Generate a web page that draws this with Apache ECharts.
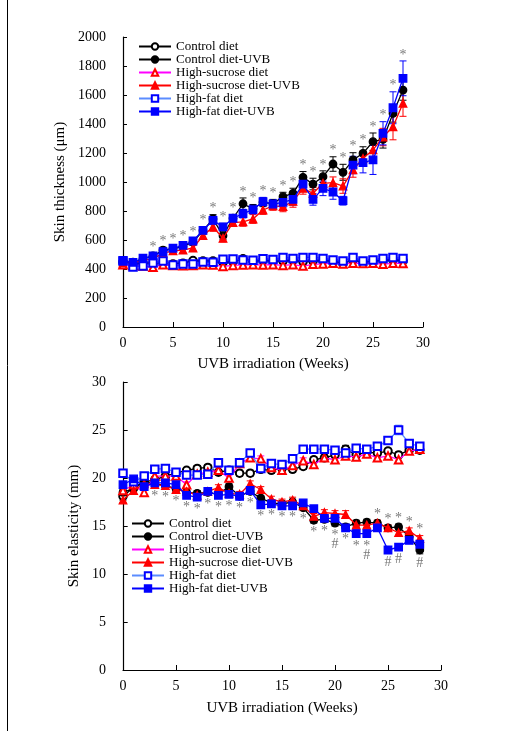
<!DOCTYPE html>
<html>
<head>
<meta charset="utf-8">
<style>
  html, body { margin: 0; padding: 0; background: #fff; }
  #chart { width: 508px; height: 731px; }
</style>
<script src="https://cdn.jsdelivr.net/npm/echarts@6/dist/echarts.min.js"></script>
</head>
<body>
<div id="chart"></div>
<script>
// Weeks of UVB irradiation
const weeks = [0,1,2,3,4,5,6,7,8,9,10,11,12,13,14,15,16,17,18,19,20,21,22,23,24,25,26,27,28];

const seriesNames = ['Control diet', 'Control diet-UVB', 'High-sucrose diet',
                     'High-sucrose diet-UVB', 'High-fat diet', 'High-fat diet-UVB'];

// Skin thickness (µm), means
const thkControl     = [445,435,440,440,445,435,440,458,455,455,445,450,470,455,460,455,455,460,450,455,458,455,440,460,448,455,460,462,458];
const thkControlUVB  = [455,448,470,490,530,540,555,585,665,745,630,750,850,815,860,850,899,922,1032,986,1037,1124,1067,1152,1198,1278,1294,1473,1634];
const thkSucrose     = [430,425,420,412,430,425,422,425,430,428,418,425,428,430,428,430,425,430,420,432,435,440,435,440,438,440,432,440,438];
const thkSucroseUVB  = [440,440,460,470,510,525,530,545,630,690,612,720,725,745,807,835,830,866,956,922,991,995,972,1083,1163,1221,1310,1381,1543];
const thkFat         = [455,414,421,441,455,428,434,434,448,446,467,469,462,460,470,466,480,473,480,480,473,462,455,480,455,462,473,480,473];
const thkFatUVB      = [460,446,474,490,520,543,563,593,667,736,690,750,782,810,864,848,860,880,986,880,956,931,871,1117,1133,1152,1336,1512,1715];

// Skin thickness, standard errors
const thkControlErr    = [15,15,15,15,15,15,15,15,15,15,15,15,15,15,15,15,15,15,15,15,15,15,15,15,15,15,15,15,15];
const thkControlUVBErr = [15,15,15,15,20,20,20,20,25,30,25,25,40,30,30,30,30,35,40,40,40,50,55,50,45,60,60,60,70];
const thkSucroseErr    = [15,15,15,15,15,15,15,15,15,15,15,15,15,15,15,15,15,15,15,15,15,15,15,15,15,15,15,15,15];
const thkSucroseUVBErr = [15,15,15,15,20,20,20,20,25,30,25,25,30,30,30,30,35,40,40,40,40,40,50,50,50,50,60,90,90];
const thkFatErr        = [15,15,15,15,15,15,15,15,15,15,15,15,15,15,15,15,15,15,15,15,15,15,15,15,15,15,15,15,15];
const thkFatUVBErr     = [15,15,15,15,20,20,20,20,25,30,25,25,30,30,30,30,35,40,45,40,50,50,30,60,70,100,80,110,120];

// Weeks marked * on the thickness panel
const thkStarWeeks = [3,4,5,6,7,8,9,10,11,12,13,14,15,16,17,18,19,20,21,22,23,24,25,26,27,28];

// Skin elasticity (mm), means
const elaControl     = [18.1,19.0,19.6,19.8,20.2,20.5,20.8,21.0,21.1,20.6,20.8,20.5,20.5,20.9,20.8,21.0,20.9,21.2,21.9,22.1,22.4,23.0,22.4,22.7,22.6,22.8,22.4,22.9,22.9];
const elaControlUVB  = [18.5,18.9,19.6,19.4,19.2,18.9,18.5,18.4,18.5,18.3,19.1,18.1,18.6,17.9,17.4,17.3,17.5,16.9,15.6,15.7,15.3,14.9,15.3,15.4,15.3,14.8,14.9,13.9,12.5];
const elaSucrose     = [18.7,19.3,18.5,20.2,20.2,20.2,19.3,20.4,20.6,20.8,20.0,21.5,22.1,22.0,21.1,20.8,21.3,21.8,21.4,22.1,21.9,22.3,22.2,22.5,22.1,22.3,21.9,22.8,23.0];
const elaSucroseUVB  = [17.7,18.7,19.4,19.3,19.2,18.8,18.6,18.2,18.6,19.0,18.4,18.3,19.4,18.8,17.8,17.5,17.7,17.1,16.0,16.4,16.3,16.2,15.1,15.1,15.3,14.8,14.3,14.5,13.7];
const elaFat         = [20.5,19.6,20.2,20.9,21.0,20.6,20.3,20.3,20.4,21.6,20.8,21.6,22.6,21.0,21.5,21.4,22.0,23.0,23.0,23.0,22.9,22.6,23.1,23.0,23.3,23.9,25.0,23.6,23.3];
const elaFatUVB      = [19.3,19.9,19.1,19.5,19.5,19.3,18.2,18.0,18.6,18.2,18.3,18.1,18.7,17.2,17.3,17.1,17.1,17.4,16.8,15.8,15.8,14.8,14.2,14.2,14.8,12.5,12.8,13.5,13.1];

// Skin elasticity, standard errors
const elaControlErr    = [0.4,0.3,0.3,0.3,0.3,0.3,0.3,0.3,0.3,0.3,0.3,0.3,0.3,0.3,0.3,0.3,0.3,0.3,0.3,0.3,0.3,0.4,0.3,0.3,0.3,0.3,0.3,0.3,0.3];
const elaControlUVBErr = [0.3,0.3,0.3,0.3,0.3,0.3,0.3,0.3,0.3,0.3,0.3,0.3,0.3,0.3,0.3,0.3,0.3,0.3,0.3,0.3,0.3,0.3,0.3,0.3,0.3,0.3,0.3,0.3,0.4];
const elaSucroseErr    = [0.3,0.3,0.3,0.3,0.3,0.3,0.3,0.3,0.3,0.3,0.3,0.3,0.3,0.3,0.3,0.3,0.3,0.3,0.3,0.3,0.3,0.3,0.3,0.3,0.3,0.3,0.3,0.3,0.3];
const elaSucroseUVBErr = [0.3,0.3,0.3,0.3,0.3,0.3,0.3,0.3,0.3,0.3,0.3,0.3,0.3,0.3,0.3,0.3,0.3,0.3,0.3,0.3,0.3,0.4,0.3,0.3,0.3,0.3,0.3,0.3,0.3];
const elaFatErr        = [0.4,0.3,0.3,0.3,0.3,0.3,0.3,0.3,0.3,0.3,0.3,0.3,0.3,0.3,0.3,0.3,0.3,0.3,0.3,0.3,0.3,0.3,0.3,0.3,0.3,0.3,0.5,0.3,0.3];
const elaFatUVBErr     = [0.3,0.3,0.3,0.3,0.3,0.3,0.3,0.3,0.3,0.3,0.3,0.3,0.3,0.3,0.3,0.3,0.3,0.3,0.3,0.3,0.3,0.3,0.4,0.4,0.3,0.3,0.3,0.3,0.4];

// Significance marks on the elasticity panel (week -> text)
const elaBelowMarks = {3:'*',4:'*',5:'*',6:'*',7:'*',8:'*',9:'*',10:'*',11:'*',12:'*',13:'*',14:'*',15:'*',
                       16:'*',17:'*',18:'*',19:'*',20:'*\n#',21:'*',22:'*',23:'*\n#',25:'#',26:'#',28:'#'};
const elaAboveWeeks = [24,25,26,27,28];

const FONT = 'Liberation Serif';

const styles = [
  { line: '#000000', sym: 'emptyCircle',   fill: '#000000', err: '#000000' },
  { line: '#000000', sym: 'circle',        fill: '#000000', err: '#000000' },
  { line: '#ff00ff', sym: 'emptyTriangle', fill: '#ff0000', err: '#ff00ff' },
  { line: '#ff0000', sym: 'triangle',      fill: '#ff0000', err: '#ff0000' },
  { line: '#5b8cff', sym: 'emptyRect',     fill: '#0000ff', err: '#5b8cff' },
  { line: '#0000ff', sym: 'rect',          fill: '#0000ff', err: '#0000ff' }
];

function pairs(vals) { return weeks.map((w, i) => [w, vals[i]]); }

function errRender(color) {
  return function (params, api) {
    const x = api.value(0);
    const lo = api.coord([x, api.value(1)]);
    const hi = api.coord([x, api.value(2)]);
    const cw = 3.5;
    const st = { stroke: color, lineWidth: 1 };
    return {
      type: 'group',
      children: [
        { type: 'line', shape: { x1: lo[0], y1: lo[1], x2: hi[0], y2: hi[1] }, style: st },
        { type: 'line', shape: { x1: lo[0] - cw, y1: lo[1], x2: lo[0] + cw, y2: lo[1] }, style: st },
        { type: 'line', shape: { x1: hi[0] - cw, y1: hi[1], x2: hi[0] + cw, y2: hi[1] }, style: st }
      ]
    };
  };
}

function panelSeries(axisIdx, means, errs) {
  const out = [];
  means.forEach((m, k) => {
    const s = styles[k];
    out.push({
      type: 'custom',
      name: seriesNames[k] + ' (SE)',
      xAxisIndex: axisIdx, yAxisIndex: axisIdx,
      renderItem: errRender(s.err),
      data: weeks.map((w, i) => [w, m[i] - errs[k][i], m[i] + errs[k][i]]),
      clip: false, z: 1, silent: true
    });
  });
  means.forEach((m, k) => {
    const s = styles[k];
    out.push({
      type: 'line',
      name: seriesNames[k],
      xAxisIndex: axisIdx, yAxisIndex: axisIdx,
      data: pairs(m),
      symbol: s.sym,
      symbolSize: 7.5,
      showAllSymbol: true,
      clip: false,
      color: s.fill,
      lineStyle: { color: s.line, width: 1.3 },
      itemStyle: { color: s.fill, borderColor: s.fill, borderWidth: 1.3 },
      z: 2 + k, silent: true, animation: false
    });
  });
  return out;
}

function markSeries(axisIdx, points, position, distance) {
  return {
    type: 'scatter',
    name: 'marks',
    xAxisIndex: axisIdx, yAxisIndex: axisIdx,
    data: points,
    symbolSize: 1,
    itemStyle: { color: 'rgba(0,0,0,0)' },
    label: {
      show: true, position: position, distance: distance,
      formatter: p => p.data[2],
      fontFamily: FONT, fontSize: 14, lineHeight: 9, color: '#555555'
    },
    clip: false, silent: true, z: 10
  };
}

// Thickness panel marks: above the highest UVB error cap
const thkUVB = [[thkControlUVB, thkControlUVBErr], [thkSucroseUVB, thkSucroseUVBErr], [thkFatUVB, thkFatUVBErr]];
const thkStarPts = thkStarWeeks.map(w => {
  const i = weeks.indexOf(w);
  return [w, Math.max(...thkUVB.map(([m, e]) => m[i] + e[i])), '*'];
});

// Elasticity panel marks
const elaUVB = [[elaControlUVB, elaControlUVBErr], [elaSucroseUVB, elaSucroseUVBErr], [elaFatUVB, elaFatUVBErr]];
const elaBelowPts = Object.keys(elaBelowMarks).map(Number).map(w => {
  const i = weeks.indexOf(w);
  return [w, Math.min(...elaUVB.map(([m, e]) => m[i] - e[i])), elaBelowMarks[w]];
});
const elaAbovePts = elaAboveWeeks.map(w => {
  const i = weeks.indexOf(w);
  return [w, Math.max(...elaUVB.map(([m, e]) => m[i] + e[i])), '*'];
});

const axisLine = { show: true, lineStyle: { color: '#000', width: 1.2 } };
const tickLabel = { fontFamily: FONT, fontSize: 14, color: '#000', formatter: v => String(v) };
const nameStyle = { fontFamily: FONT, fontSize: 15, color: '#000' };

const legendCommon = {
  orient: 'vertical',
  data: seriesNames,
  itemWidth: 32, itemHeight: 8, itemGap: 0,
  textStyle: { fontFamily: FONT, fontSize: 13, lineHeight: 13, color: '#000' },
  selectedMode: false
};

const option = {
  animation: false,
  backgroundColor: '#ffffff',
  legend: [
    Object.assign({ left: 133, top: 35 }, legendCommon),
    Object.assign({ left: 126, top: 512 }, legendCommon)
  ],
  grid: [
    { left: 111, top: 37, width: 312, height: 290 },
    { left: 123, top: 37, width: 300, height: 290 },
    { left: 111, top: 382, width: 330, height: 288 },
    { left: 123, top: 382, width: 318, height: 288 }
  ],
  xAxis: [
    { gridIndex: 0, type: 'value', min: -1.2, max: 30, show: false },
    { gridIndex: 1, type: 'value', min: 0, max: 30, interval: 5,
      name: 'UVB irradiation (Weeks)', nameLocation: 'middle', nameGap: 30, nameTextStyle: nameStyle,
      axisLine: axisLine, axisTick: { show: true, inside: true, length: 5, lineStyle: { color: '#000' } },
      axisLabel: Object.assign({ margin: 9 }, tickLabel), splitLine: { show: false } },
    { gridIndex: 2, type: 'value', min: -1.2, max: 30, show: false },
    { gridIndex: 3, type: 'value', min: 0, max: 30, interval: 5,
      name: 'UVB irradiation (Weeks)', nameLocation: 'middle', nameGap: 31, nameTextStyle: nameStyle,
      axisLine: axisLine, axisTick: { show: true, inside: true, length: 5, lineStyle: { color: '#000' } },
      axisLabel: Object.assign({ margin: 9 }, tickLabel), splitLine: { show: false } }
  ],
  yAxis: [
    { gridIndex: 0, type: 'value', min: 0, max: 2000, interval: 200,
      name: 'Skin thickness (μm)', nameLocation: 'middle', nameGap: 26, nameTextStyle: nameStyle,
      axisLine: axisLine, axisTick: { show: true, inside: true, length: 4, lineStyle: { color: '#000' } },
      axisLabel: Object.assign({ margin: 5 }, tickLabel), splitLine: { show: false } },
    { gridIndex: 1, type: 'value', min: 0, max: 2000, show: false },
    { gridIndex: 2, type: 'value', min: 0, max: 30, interval: 5,
      name: 'Skin elasticity (mm)', nameLocation: 'middle', nameGap: 18, nameTextStyle: nameStyle,
      axisLine: axisLine, axisTick: { show: true, inside: true, length: 4, lineStyle: { color: '#000' } },
      axisLabel: Object.assign({ margin: 5 }, tickLabel), splitLine: { show: false } },
    { gridIndex: 3, type: 'value', min: 0, max: 30, show: false }
  ],
  graphic: [
    { type: 'line', shape: { x1: 7.5, y1: 0, x2: 7.5, y2: 731 }, style: { stroke: '#000', lineWidth: 1 } }
  ],
  series: [].concat(
    panelSeries(1,
      [thkControl, thkControlUVB, thkSucrose, thkSucroseUVB, thkFat, thkFatUVB],
      [thkControlErr, thkControlUVBErr, thkSucroseErr, thkSucroseUVBErr, thkFatErr, thkFatUVBErr]),
    [markSeries(1, thkStarPts, 'top', 1)],
    panelSeries(3,
      [elaControl, elaControlUVB, elaSucrose, elaSucroseUVB, elaFat, elaFatUVB],
      [elaControlErr, elaControlUVBErr, elaSucroseErr, elaSucroseUVBErr, elaFatErr, elaFatUVBErr]),
    [markSeries(3, elaBelowPts, 'bottom', 4), markSeries(3, elaAbovePts, 'top', 1)]
  )
};

const chart = echarts.init(document.getElementById('chart'), null, { renderer: 'canvas' });
chart.setOption(option);
</script>
</body>
</html>
